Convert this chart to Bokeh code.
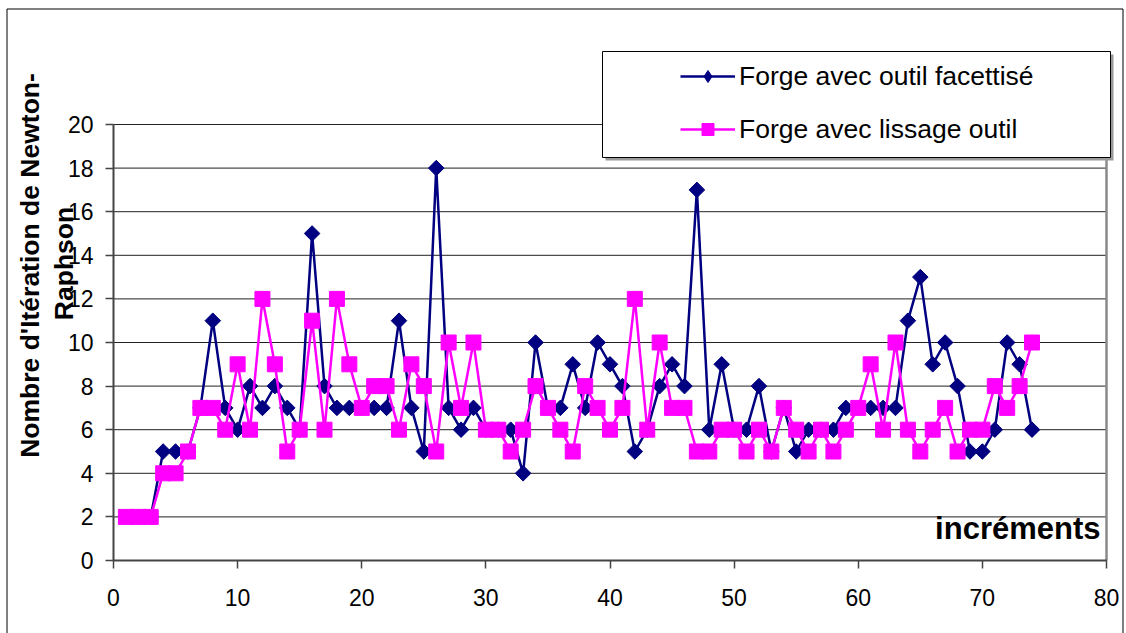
import math
from bokeh.plotting import figure
from bokeh.models import Legend, LegendItem, Label, BoxAnnotation, FixedTicker, Range1d
from bokeh.embed import file_html
from bokeh.resources import INLINE

# ---- data ----
increments = list(range(1, 75))
outil_facettise = [2, 2, 2, 5, 5, 5, 7, 11, 7, 6, 8, 7, 8, 7, 6, 15, 8, 7, 7, 7,
                   7, 7, 11, 7, 5, 18, 7, 6, 7, 6, 6, 6, 4, 10, 7, 7, 9, 7, 10, 9,
                   8, 5, 6, 8, 9, 8, 17, 6, 9, 6, 6, 8, 5, 7, 5, 6, 6, 6, 7, 7,
                   7, 7, 7, 11, 13, 9, 10, 8, 5, 5, 6, 10, 9, 6]
lissage_outil = [2, 2, 2, 4, 4, 5, 7, 7, 6, 9, 6, 12, 9, 5, 6, 11, 6, 12, 9, 7,
                 8, 8, 6, 9, 8, 5, 10, 7, 10, 6, 6, 5, 6, 8, 7, 6, 5, 8, 7, 6,
                 7, 12, 6, 10, 7, 7, 5, 5, 6, 6, 5, 6, 5, 7, 6, 5, 6, 5, 6, 7,
                 9, 6, 10, 6, 5, 6, 7, 5, 6, 6, 8, 7, 8, 10]
series_names = ["Forge avec outil facettisé", "Forge avec lissage outil"]
x_ticks = [0, 10, 20, 30, 40, 50, 60, 70, 80]
y_ticks = [0, 2, 4, 6, 8, 10, 12, 14, 16, 18, 20]
y_title_lines = ["Nombre d'Itération de Newton-", "Raphson"]
x_title = "incréments"

FONT = "Liberation Sans"

# ---- layout (pixels) ----
W, H = 1126, 633
PLOT_L, PLOT_R, PLOT_T, PLOT_B = 113, 1106, 124, 560   # plot area on canvas
x0, x1 = x_ticks[0], x_ticks[-1]
y0, y1 = y_ticks[0], y_ticks[-1]
xs = (PLOT_R - PLOT_L) / (x1 - x0)
ys = (PLOT_B - PLOT_T) / (y1 - y0)
x_range = Range1d(x0 - PLOT_L / xs, x0 + (W - PLOT_L) / xs)
y_range = Range1d(y0 - (H - PLOT_B) / ys, y0 + PLOT_B / ys)

p = figure(width=W, height=H, output_backend="svg", toolbar_location=None,
           x_range=x_range, y_range=y_range, min_border=0,
           background_fill_color="white", border_fill_color="white")
p.outline_line_color = None
p.grid.visible = False

# horizontal gridlines across the plot area only
p.segment(x0=[x0] * len(y_ticks), y0=y_ticks, x1=[x1] * len(y_ticks), y1=y_ticks,
          line_color="#222222", line_width=1)
# right border of plot area
p.segment(x0=[x1], y0=[y0], x1=[x1], y1=[y1], line_color="#8a8a8a", line_width=2.5)

for ax in (p.xaxis[0], p.yaxis[0]):
    ax.axis_line_color = "#444444"
    ax.axis_line_width = 2
    ax.major_tick_line_color = "#444444"
    ax.major_tick_line_width = 1.5
    ax.major_tick_out = 8
    ax.major_tick_in = 0
    ax.minor_tick_line_color = None
    ax.major_label_text_font = FONT
    ax.major_label_text_font_size = "23px"
    ax.major_label_text_color = "black"
p.xaxis.ticker = FixedTicker(ticks=x_ticks)
p.yaxis.ticker = FixedTicker(ticks=y_ticks)
p.xaxis.fixed_location = y0
p.yaxis.fixed_location = x0
p.xaxis.bounds = (x0, x1)
p.yaxis.bounds = (y0, y1)
p.xaxis.major_label_standoff = 20
p.yaxis.major_label_standoff = 12

# series
l1 = p.line(increments, outil_facettise, line_color="#000080", line_width=2.5)
# diamond glyph (sits under the rotated squares; gives the legend its diamond)
d1 = p.scatter(increments, outil_facettise, marker="diamond", size=14,
               fill_color="#000080", line_color="#000080")
s1 = p.scatter(increments, outil_facettise, marker="square", angle=math.pi / 4,
               size=11, fill_color="#000080", line_color="#000080")
l2 = p.line(increments, lissage_outil, line_color="#FF00FF", line_width=2.5)
s2 = p.scatter(increments, lissage_outil, marker="square", size=15,
               fill_color="#FF00FF", line_color="#FF00FF")

def sbox(left, right, top, bottom, **kw):
    """Box given in canvas pixels (top-left origin)."""
    return BoxAnnotation(left=left, right=right, top=H - top, bottom=H - bottom,
                         left_units="screen", right_units="screen",
                         top_units="screen", bottom_units="screen", **kw)

# outer chart border
p.add_layout(sbox(6.5, 1122.5, 8.5, H + 20, fill_alpha=0, line_color="black",
                  line_alpha=1, line_width=1, level="annotation"))

# legend box (shadow + box)
p.add_layout(sbox(605, 1113, 54, 160, fill_color="#9a9a9a", fill_alpha=1,
                  line_alpha=0, level="annotation"))
p.add_layout(sbox(602, 1110, 51, 157, fill_color="white", fill_alpha=1,
                  line_color="black", line_alpha=1, line_width=1,
                  level="annotation"))

legend = Legend(items=[LegendItem(label=series_names[0], renderers=[l1, d1]),
                       LegendItem(label=series_names[1], renderers=[l2, s2])],
                location=(680, H - 146.5 + 2))
legend.border_line_alpha = 0
legend.background_fill_alpha = 0
legend.padding = 0
legend.margin = 0
legend.spacing = 22
legend.glyph_width = 55
legend.glyph_height = 30
legend.label_height = 30
legend.label_standoff = 4
legend.label_text_font = FONT
legend.label_text_font_size = "26.5px"
legend.label_text_color = "black"
p.add_layout(legend)

# axis titles
title_kw = dict(x_units="screen", y_units="screen", text_font=FONT,
                text_font_style="bold", text_color="black")
p.add_layout(Label(x=29, y=H - 265, text=y_title_lines[0], angle=math.pi / 2,
                   text_align="center", text_baseline="middle",
                   text_font_size="26.5px", **title_kw))
p.add_layout(Label(x=63, y=H - 263, text=y_title_lines[1], angle=math.pi / 2,
                   text_align="center", text_baseline="middle",
                   text_font_size="26.5px", **title_kw))
p.add_layout(Label(x=1100, y=H - 528, text=x_title, text_align="right",
                   text_baseline="middle", text_font_size="31px", **title_kw))

open("out.html", "w").write(file_html(p, INLINE))
